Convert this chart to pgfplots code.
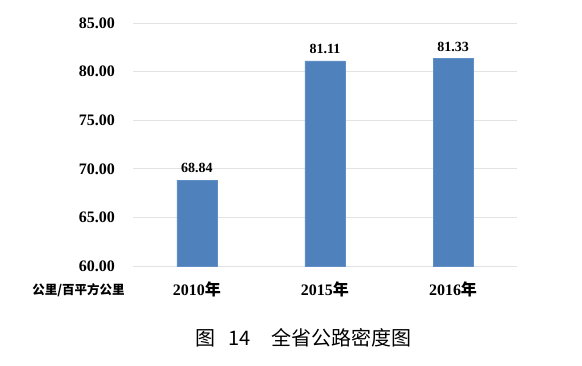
\documentclass[border=0pt]{standalone}
\usepackage{fontspec}
\setmainfont{Liberation Serif}
\newfontfamily\cjk{Noto Sans CJK SC}
\usepackage{pgfplots}
\pgfplotsset{compat=1.18}
\definecolor{barblue}{HTML}{4F81BD}
\begin{document}
\begin{tikzpicture}
\path[use as bounding box] (-133pt,-99pt) rectangle (449pt,266pt);
\begin{axis}[
  at={(0pt,0pt)}, anchor=south west,
  scale only axis, width=384pt, height=243pt,
  xmin=-0.5, xmax=2.5, ymin=60, ymax=85,
  ytick={60,65,70,75,80,85},
  xtick={0,1,2},
  xticklabels={2010{\cjk\bfseries 年},2015{\cjk\bfseries 年},2016{\cjk\bfseries 年}},
  axis line style={draw=none},
  major tick style={draw=none},
  ymajorgrids, grid style={draw=black!11, line width=0.8pt},
  ybar, bar width=40pt,
  /pgf/number format/assume math mode=true,
  yticklabel style={font=\bfseries\fontsize{16}{16}\selectfont, anchor=east, inner sep=0pt, xshift=-18pt,
    /pgf/number format/.cd, fixed, fixed zerofill, precision=2},
  xticklabel style={font=\bfseries\fontsize{16}{16}\selectfont, anchor=north, inner sep=0pt, yshift=-11pt},
  nodes near coords,
  every node near coord/.append style={font=\bfseries\fontsize{14}{14}\selectfont, yshift=3.5pt,
    /pgf/number format/.cd, fixed, fixed zerofill, precision=2, assume math mode=true},
]
\addplot[fill=barblue, draw=barblue!90!white] coordinates {(0,68.84) (1,81.11) (2,81.33)};
\end{axis}
\node[font=\cjk\bfseries\fontsize{12.5}{12.5}\selectfont] at (-54.5pt,-24pt) {公里/百平方公里};
\node[font=\cjk\fontsize{20}{20}\selectfont] at (170.5pt,-72pt) {图\hspace{13pt}14\hspace{21pt}全省公路密度图};
\end{tikzpicture}
\end{document}
